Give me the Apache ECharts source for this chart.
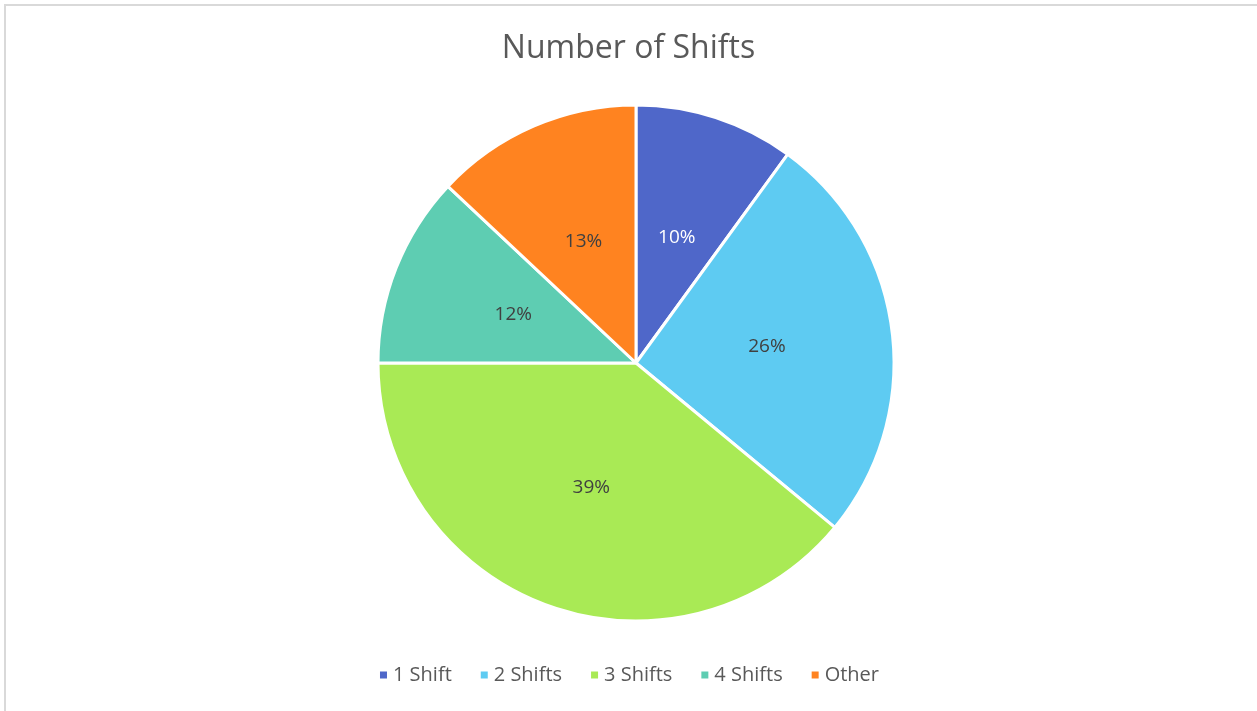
<!DOCTYPE html>
<html>
<head>
<meta charset="utf-8">
<script src="https://cdn.jsdelivr.net/npm/echarts@6/dist/echarts.min.js"></script>
<style>
  html, body { margin: 0; padding: 0; background: #fff; }
  #chart { width: 1257px; height: 711px; }
</style>
</head>
<body>
<div id="chart"></div>
<script>
  // shift categories and share of each (percent)
  const categories = ['1 Shift', '2 Shifts', '3 Shifts', '4 Shifts', 'Other'];
  const shares = [10, 26, 39, 12, 13];
  const colors = ['#4f67c9', '#5ecbf2', '#a9ea55', '#5ecdb2', '#ff8320'];

  const myChart = echarts.init(document.getElementById('chart'));

  let pieData = [];
  for (let i = 0; i < categories.length; i++) {
    pieData.push({
      name: categories[i],
      value: shares[i],
      itemStyle: { color: colors[i] },
      label: { color: i === 0 ? '#ffffff' : '#404040' }
    });
  }

  let option = {
    backgroundColor: '#ffffff',
    textStyle: { fontFamily: 'Open Sans' },
    title: {
      text: 'Number of Shifts',
      left: 'center',
      top: 28,
      textStyle: {
        fontFamily: 'Open Sans',
        fontSize: 32,
        fontWeight: 'normal',
        color: '#595959'
      }
    },
    legend: {
      data: categories,
      bottom: 21,
      left: 'center',
      icon: 'rect',
      itemWidth: 9,
      itemHeight: 9,
      itemGap: 27,
      textStyle: {
        fontFamily: 'Open Sans',
        fontSize: 20,
        color: '#595959'
      }
    },
    graphic: [
      {
        type: 'rect',
        silent: true,
        shape: { x: 5, y: 5, width: 1400, height: 900 },
        style: { fill: 'none', stroke: '#d9d9d9', lineWidth: 2 }
      }
    ],
    series: [
      {
        name: 'Number of Shifts',
        type: 'pie',
        center: [636, 363],
        radius: 258,
        startAngle: 90,
        clockwise: true,
        avoidLabelOverlap: false,
        itemStyle: { borderColor: '#ffffff', borderWidth: 3 },
        label: {
          show: true,
          position: 'inside',
          formatter: '{c}%',
          fontFamily: 'Open Sans',
          fontSize: 19,
          padding: [6, 0, 0, 0]
        },
        labelLine: { show: false },
        emphasis: { disabled: true },
        data: pieData
      }
    ]
  };

  myChart.setOption(option);
  window.addEventListener('resize', function () {
    myChart.resize();
  });
</script>
</body>
</html>
